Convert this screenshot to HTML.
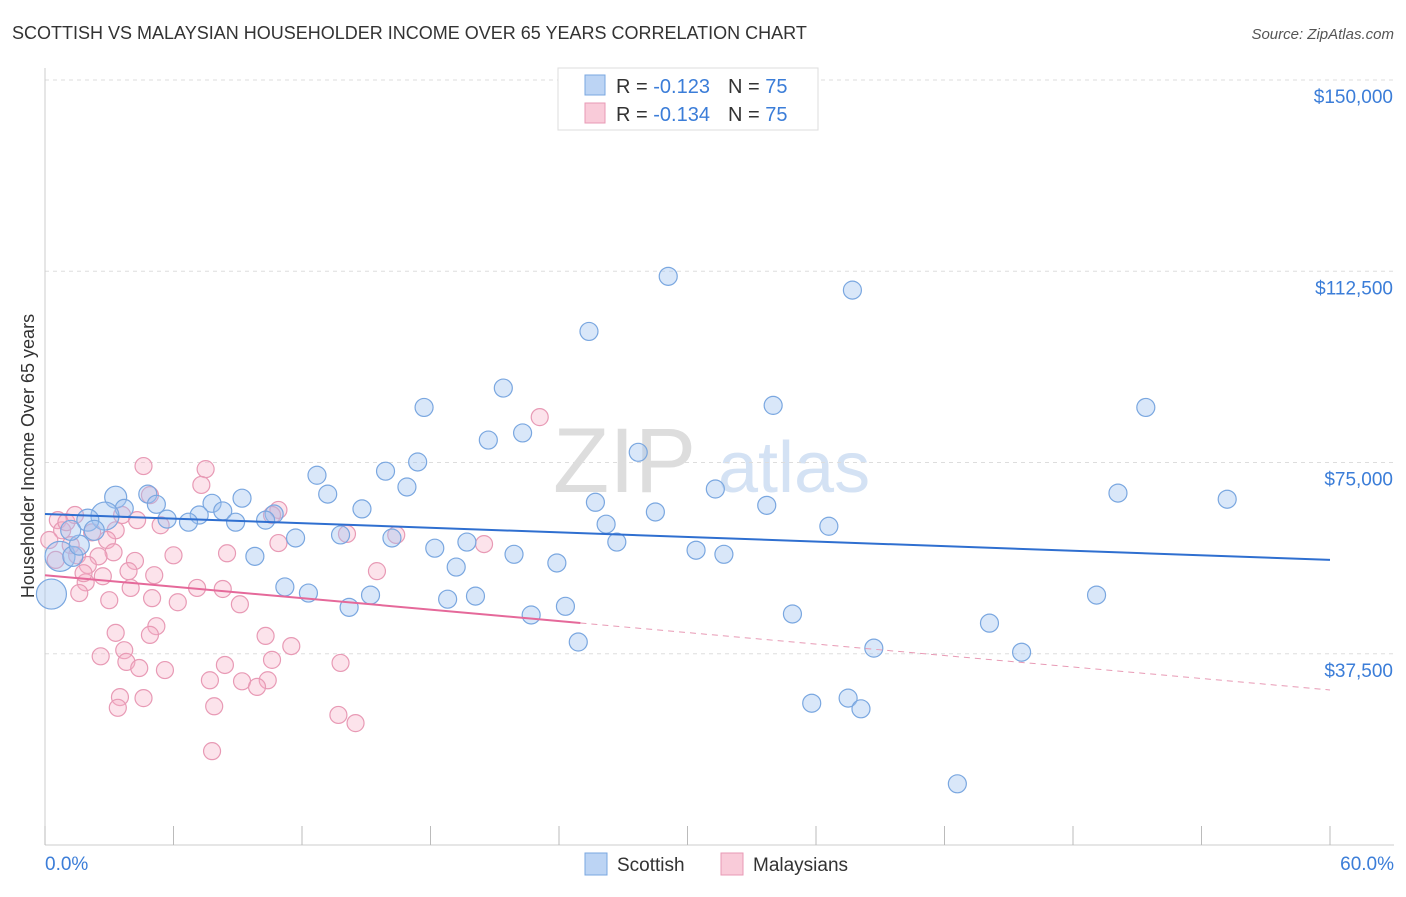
<!DOCTYPE html>
<html><head><meta charset="utf-8">
<style>
body{margin:0;background:#fff;font-family:"Liberation Sans",sans-serif;}
svg text{font-family:"Liberation Sans",sans-serif;}
</style></head>
<body>
<svg id="chart" width="1406" height="892">
<text x="12" y="39" font-size="18" fill="#333">SCOTTISH VS MALAYSIAN HOUSEHOLDER INCOME OVER 65 YEARS CORRELATION CHART</text>
<text x="1394" y="39" font-size="15" fill="#555" font-style="italic" text-anchor="end">Source: ZipAtlas.com</text>
<g>
<text x="553" y="492" font-size="92" fill="#ddd" font-family="Liberation Serif">ZIP</text>
<text x="718" y="492" font-size="72" fill="#d4e2f4">atlas</text>
</g>
<g id="grid"></g>
<g id="axes"></g>
<g id="marks"></g>
<text transform="translate(34,456) rotate(-90)" font-size="18" fill="#333" text-anchor="middle">Householder Income Over 65 years</text>
<text x="45" y="870" font-size="19" fill="#3b7dd8">0.0%</text>
<text x="1394" y="870" font-size="19" fill="#3b7dd8" text-anchor="end">60.0%</text>
<g>
<rect x="558" y="68" width="260" height="62" fill="#fff" stroke="#ddd"/>
<rect x="585" y="75" width="20" height="20" fill="#bcd4f4" stroke="#7aa7e0"/>
<rect x="585" y="103" width="20" height="20" fill="#f9cbd9" stroke="#e89ab5"/>
<text x="616" y="93" font-size="20" fill="#333">R = <tspan fill="#3b7dd8">-0.123</tspan><tspan dx="18">N = </tspan><tspan fill="#3b7dd8">75</tspan></text>
<text x="616" y="121" font-size="20" fill="#333">R = <tspan fill="#3b7dd8">-0.134</tspan><tspan dx="18">N = </tspan><tspan fill="#3b7dd8">75</tspan></text>
</g>
<g>
<rect x="585" y="853" width="22" height="22" fill="#bcd4f4" stroke="#7aa7e0"/>
<text x="617" y="871" font-size="19" fill="#333">Scottish</text>
<rect x="721" y="853" width="22" height="22" fill="#f9cbd9" stroke="#e89ab5"/>
<text x="753" y="871" font-size="19" fill="#333">Malaysians</text>
</g>
</svg>
<script>
const yTicks=[37500,75000,112500,150000];
const yTickLabels=["$37,500","$75,000","$112,500","$150,000"];
const xTicks=[0,6,12,18,24,30,36,42,48,54,60];
const scottishX=[29.1,37.7,25.4,21.4,17.7,34.0,51.4,22.3,20.7,27.7,17.4,15.9,12.7,16.9,31.3,50.1,55.2,13.2,9.2,4.8,3.3,5.2,7.8,25.7,33.7,8.3,7.2,14.8,28.5,10.7,5.7,6.7,8.9,10.3,26.2,36.6,3.7,2.8,2.0,11.7,13.8,16.2,26.7,19.7,18.2,30.4,21.9,31.7,9.8,19.2,23.9,11.2,12.3,15.2,20.1,18.8,49.1,14.2,24.3,22.7,34.9,44.1,24.9,38.7,45.6,35.8,37.5,38.1,42.6,0.3,0.7,1.3,1.6,2.3,1.2];
const scottishY=[111500,108800,100700,89600,85800,86200,85800,80800,79400,77000,75100,73300,72500,70200,69800,69000,67800,68800,68000,68800,68200,66800,67000,67200,66600,65500,64700,65900,65300,64900,63900,63300,63300,63700,62900,62500,66000,64500,63700,60200,60800,60200,59400,59400,58200,57800,57000,57000,56600,54500,55300,50600,49400,49000,48800,48200,49000,46600,46800,45100,45300,43500,39800,38600,37800,27800,28800,26700,12000,49200,56600,56600,58800,61700,61700];
const scottishSize=[9,9,9,9,9,9,9,9,9,9,9,9,9,9,9,9,9,9,9,9,11,9,9,9,9,9,9,9,9,9,9,9,9,9,9,9,9,14,11,9,9,9,9,9,9,9,9,9,9,9,9,9,9,9,9,9,9,9,9,9,9,9,9,9,9,9,9,9,9,15,15,10,10,10,10];
const malayX=[23.1,4.6,7.5,7.3,4.9,10.9,10.6,4.3,5.4,3.3,14.1,16.4,10.9,2.9,20.5,8.5,6.0,3.2,2.5,4.2,3.9,2.7,5.1,15.5,1.9,7.1,8.3,1.6,3.0,5.0,6.2,9.1,5.2,3.3,4.9,10.3,11.5,3.7,2.6,10.6,3.8,4.4,5.6,8.4,13.8,7.7,9.2,10.4,9.9,3.5,4.6,3.4,7.9,13.7,14.5,7.8,0.6,0.8,1.2,1.5,2.0,0.5,1.0,2.2,1.4,0.2,3.6,1.8,4.0];
const malayY=[83900,74300,73700,70600,68600,65700,64700,63700,62700,61700,61000,60800,59200,59800,59000,57200,56800,57400,56600,55700,53700,52700,52900,53700,51500,50400,50200,49400,48000,48400,47600,47200,42900,41600,41200,41000,39000,38200,37000,36300,35900,34700,34300,35300,35700,32300,32100,32300,31000,29000,28800,26900,27200,25500,23900,18400,63700,61700,58800,56800,54900,55900,63300,61300,64700,59800,64700,53300,50400];
const scottishTrend=[64900,-150];
const malayTrend=[52900,-375];
const malaySolidEnd=25;
const NS="http://www.w3.org/2000/svg";
const X0=45,X1=1330,Y0=845,Ytop=80;
function sx(v){return X0+(X1-X0)*v/60;}
function sy(v){return Y0-(Y0-Ytop)*v/150000;}
function mk(tag,attrs,parent){const e=document.createElementNS(NS,tag);for(const k in attrs)e.setAttribute(k,attrs[k]);parent.appendChild(e);return e;}
const grid=document.getElementById('grid'),axes=document.getElementById('axes'),marks=document.getElementById('marks');
yTicks.forEach((t,i)=>{
 const l=mk('line',{x1:X0,x2:1394,y1:sy(t),y2:sy(t),stroke:'#ddd','stroke-dasharray':'4,4'},grid);
 
 
 const tx=mk('text',{x:1393,y:sy(t)+23,'font-size':19,fill:'#3b7dd8','text-anchor':'end'},grid);
 tx.textContent=yTickLabels[i];
 
 
});
let a=mk('line',{x1:X0,x2:X0,y1:68,y2:Y0,stroke:'#ccc'},axes);


a=mk('line',{x1:X0,x2:1394,y1:Y0,y2:Y0,stroke:'#ccc'},axes);


xTicks.forEach(t=>{
 const l=mk('line',{x1:sx(t),x2:sx(t),y1:826,y2:Y0,stroke:'#bbb'},axes);
 
 
});
malayX.forEach((x,i)=>{
 const c=mk('circle',{cx:sx(x),cy:sy(malayY[i]),r:8.5,fill:'rgba(245,175,198,0.35)',stroke:'#e89ab5','stroke-width':1.2},marks);
 
 
});
scottishX.forEach((x,i)=>{
 const c=mk('circle',{cx:sx(x),cy:sy(scottishY[i]),r:scottishSize[i],fill:'rgba(160,195,240,0.4)',stroke:'#7aa7e0','stroke-width':1.2},marks);
 
 
});
let t=mk('line',{x1:sx(0),y1:sy(scottishTrend[0]),x2:sx(60),y2:sy(scottishTrend[0]+60*scottishTrend[1]),stroke:'#2f6fd0','stroke-width':2},marks);


t=mk('line',{x1:sx(0),y1:sy(malayTrend[0]),x2:sx(malaySolidEnd),y2:sy(malayTrend[0]+malaySolidEnd*malayTrend[1]),stroke:'#e5699a','stroke-width':2},marks);


t=mk('line',{x1:sx(malaySolidEnd),y1:sy(malayTrend[0]+malaySolidEnd*malayTrend[1]),x2:sx(60),y2:sy(malayTrend[0]+60*malayTrend[1]),stroke:'#e89ab5','stroke-width':1,'stroke-dasharray':'6,5'},marks);


</script>
</body></html>
